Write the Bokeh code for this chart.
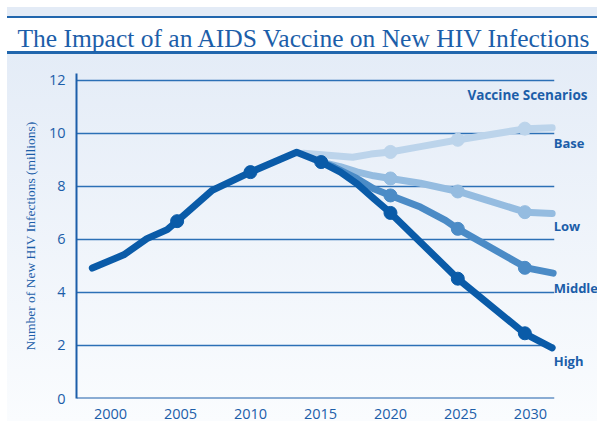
from bokeh.plotting import figure
from bokeh.models import Label, FixedTicker, Range1d
from bokeh.embed import file_html
from bokeh.resources import INLINE

# ---- data ----
hist_years = [1998.7, 2000.95, 2002.6, 2004.05, 2004.76, 2007.26, 2010.0, 2013.3, 2015.05]
hist_vals = [4.92, 5.42, 6.03, 6.37, 6.69, 7.85, 8.54, 9.29, 8.92]
hist_marker_years = [2004.76, 2010.0, 2015.05]
hist_marker_vals = [6.69, 8.54, 8.92]

high_years = [2015.05, 2016.43, 2017.62, 2018.81, 2020.0, 2024.81, 2029.57, 2031.55]
high_vals = [8.92, 8.54, 8.10, 7.54, 7.0, 4.52, 2.46, 1.91]
middle_years = [2015.05, 2015.95, 2017.62, 2018.8, 2020.0, 2022.14, 2023.93, 2024.81, 2029.71, 2031.62]
middle_vals = [8.92, 8.73, 8.29, 7.91, 7.66, 7.22, 6.72, 6.40, 4.93, 4.73]
low_years = [2015.05, 2016.4, 2017.6, 2018.8, 2020.0, 2022.14, 2024.85, 2029.64, 2031.55]
low_vals = [8.92, 8.75, 8.55, 8.40, 8.30, 8.12, 7.81, 7.03, 6.98]
base_years = [2013.8, 2017.3, 2018.6, 2020.0, 2022.14, 2024.88, 2029.71, 2031.55]
base_vals = [9.25, 9.10, 9.22, 9.30, 9.50, 9.76, 10.18, 10.21]

marker_years = [2020.0, 2024.81, 2029.6]
high_marker_vals = [7.0, 4.52, 2.46]
middle_marker_vals = [7.66, 6.40, 4.93]
low_marker_vals = [8.30, 7.81, 7.03]
base_marker_vals = [9.30, 9.76, 10.18]

scenario_names = ["Base", "Low", "Middle", "High"]
scenario_label_y = [9.64, 6.49, 4.17, 1.43]
legend_x = 2031.66
legend_title = "Vaccine Scenarios"
legend_title_pos = (2025.5, 11.45)

x_ticks = [2000, 2005, 2010, 2015, 2020, 2025, 2030]
y_ticks = [0, 2, 4, 6, 8, 10, 12]
x_start, x_axis_end, x_end = 1997.57, 2031.7, 2034.79

TITLE = "The Impact of an AIDS Vaccine on New HIV Infections"
YLABEL = "Number of New HIV Infections (millions)"

C_HIGH = "#0a5ba8"
C_MID = "#4b8bc6"
C_LOW = "#95bce0"
C_BASE = "#bcd4eb"
C_TEXT = "#1c5ea9"
C_GRID = "#2c70b6"

p = figure(width=597, height=421,
           x_range=Range1d(x_start, x_end), y_range=Range1d(0, 12.26),
           output_backend="svg", toolbar_location=None,
           min_border_left=76, min_border_right=0,
           min_border_top=73, min_border_bottom=23)

p.styles = {"background-image":
            "linear-gradient(to bottom, #e3ebf6 0px, #e3ebf6 9px, #2166ad 9px, #2166ad 11px,"
            " #ffffff 11px, #ffffff 44.5px, #2166ad 44.5px, #2166ad 46.5px,"
            " #e4ecf7 46.5px, #fafcfe 100%)",
            "background-repeat": "no-repeat",
            "background-position": "7px 7px",
            "background-size": "590px 414px"}
p.border_fill_alpha = 0
p.background_fill_alpha = 0
p.outline_line_color = None

p.title.text = TITLE
p.title.text_font = "Liberation Serif"
p.title.text_font_size = "25.5px"
p.title.text_font_style = "normal"
p.title.text_color = C_TEXT
p.title.align = "left"
p.title.offset = -59
p.title.standoff = 42

# axes and grid
p.xgrid.grid_line_color = None
p.ygrid.grid_line_color = None
grid_lw = [2 if t == 0 else 1.5 for t in y_ticks]
grid_col = [C_TEXT if t == 0 else C_GRID for t in y_ticks]
p.segment(x0=[x_start] * len(y_ticks), x1=[x_axis_end] * len(y_ticks), y0=y_ticks, y1=y_ticks,
          line_color=grid_col, line_width=grid_lw)

p.xaxis.ticker = FixedTicker(ticks=x_ticks)
p.yaxis.ticker = FixedTicker(ticks=y_ticks)
for ax in (p.xaxis, p.yaxis):
    ax.axis_line_color = C_TEXT
    ax.axis_line_width = 2
    ax.major_tick_line_color = None
    ax.minor_tick_line_color = None
    ax.major_label_text_font = "Open Sans"
    ax.major_label_text_font_size = "14.5px"
    ax.major_label_text_color = C_TEXT
p.xaxis.axis_line_color = None
p.xaxis.major_label_standoff = 4
p.yaxis.major_label_standoff = 5
p.yaxis.axis_label = YLABEL
p.yaxis.axis_label_text_font = "Liberation Serif"
p.yaxis.axis_label_text_font_size = "13.5px"
p.yaxis.axis_label_text_font_style = "normal"
p.yaxis.axis_label_text_color = C_TEXT
p.yaxis.axis_label_standoff = 8

LW = 7
MS = 13
p.line(base_years, base_vals, line_color=C_BASE, line_width=LW, line_cap="round", line_join="round")
p.scatter(marker_years, base_marker_vals, size=MS, color=C_BASE)
p.line(low_years, low_vals, line_color=C_LOW, line_width=LW, line_cap="round", line_join="round")
p.scatter(marker_years, low_marker_vals, size=MS, color=C_LOW)
p.line(middle_years, middle_vals, line_color=C_MID, line_width=LW, line_cap="round", line_join="round")
p.scatter(marker_years, middle_marker_vals, size=MS, color=C_MID)
p.line(high_years, high_vals, line_color=C_HIGH, line_width=LW, line_cap="round", line_join="round")
p.scatter(marker_years, high_marker_vals, size=MS, color=C_HIGH)
p.line(hist_years, hist_vals, line_color=C_HIGH, line_width=LW, line_cap="round", line_join="round")
p.scatter(hist_marker_years, hist_marker_vals, size=MS, color=C_HIGH)

p.add_layout(Label(x=legend_title_pos[0], y=legend_title_pos[1], text=legend_title,
                   text_font="Open Sans", text_font_style="bold", text_font_size="13.5px",
                   text_color=C_TEXT, text_baseline="middle", text_align="left"))
for name, yy in zip(scenario_names, scenario_label_y):
    p.add_layout(Label(x=legend_x, y=yy, text=name,
                       text_font="Open Sans", text_font_style="bold", text_font_size="13px",
                       text_color=C_TEXT, text_baseline="middle", text_align="left"))

open("out.html", "w").write(file_html(p, INLINE))
